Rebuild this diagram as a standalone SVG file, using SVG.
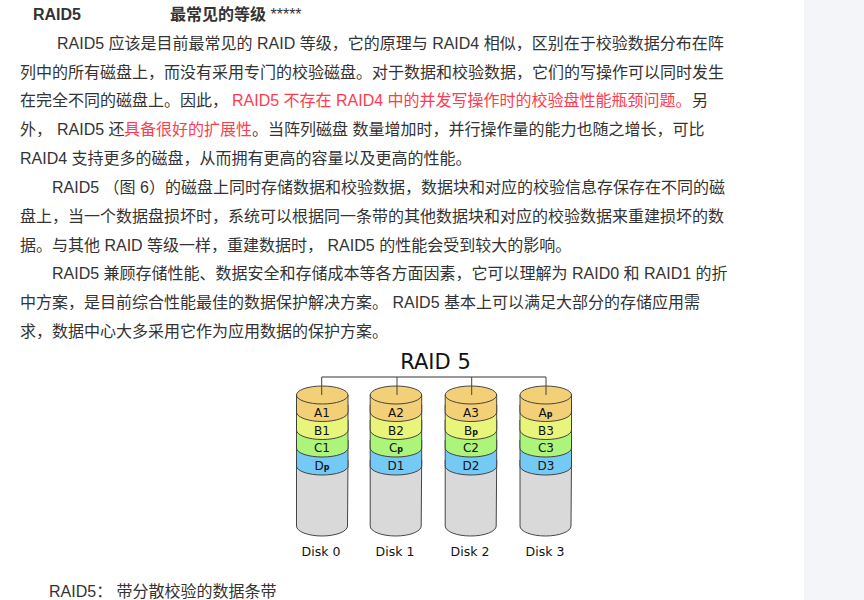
<svg xmlns="http://www.w3.org/2000/svg" width="864" height="600" viewBox="0 0 864 600">
<style>
.t{font-family:"Liberation Sans","Noto Sans CJK SC",sans-serif;font-size:16px;fill:#333}
.b{font-weight:bold}
.r{fill:#ff3b4e}
.d{font-family:"DejaVu Sans",sans-serif;fill:#111;text-anchor:middle;font-size:12.500px}
.lb{font-family:"DejaVu Sans",sans-serif;fill:#111;text-anchor:middle;font-size:12px}
.p{font-size:8px;font-weight:bold}
.o{stroke:#333;stroke-width:.9}
.c{fill:none;stroke:#777;stroke-width:1.300}
.k{fill:none;stroke:#444;stroke-width:1}
</style>
<rect width="864" height="600" fill="#fff"/>
<rect x="804" width="60" height="600" fill="#f4f5f9"/>
<g id="body">
<text class="t b" x="33" y="20">RAID5</text>
<text class="t b" x="170" y="20">最常见的等级 <tspan font-weight="normal">*****</tspan></text>
<text class="t" x="57" y="49">RAID5 应该是目前最常见的 RAID 等级，它的原理与 RAID4 相似，区别在于校验数据分布在阵</text>
<text class="t" x="20" y="78">列中的所有磁盘上，而没有采用专门的校验磁盘。对于数据和校验数据，它们的写操作可以同时发生</text>
<text class="t" x="20" y="106">在完全不同的磁盘上。因此， <tspan class="r" x="232">RAID5 不存在 RAID4 中的并发写操作时的校验盘性能瓶颈问题。</tspan><tspan x="692">另</tspan></text>
<text class="t" x="20" y="135">外， <tspan x="57">RAID5 还</tspan><tspan class="r" x="124">具备很好的扩展性</tspan>。当阵列磁盘 数量增加时，并行操作量的能力也随之增长，可比</text>
<text class="t" x="20" y="164">RAID4 支持更多的磁盘，从而拥有更高的容量以及更高的性能。</text>
<text class="t" x="52" y="193">RAID5 （图 6）的磁盘上同时存储数据和校验数据，数据块和对应的校验信息存保存在不同的磁</text>
<text class="t" x="20" y="222">盘上，当一个数据盘损坏时，系统可以根据同一条带的其他数据块和对应的校验数据来重建损坏的数</text>
<text class="t" x="20" y="251">据。与其他 RAID 等级一样，重建数据时， RAID5 的性能会受到较大的影响。</text>
<text class="t" x="52" y="279">RAID5 兼顾存储性能、数据安全和存储成本等各方面因素，它可以理解为 RAID0 和 RAID1 的折</text>
<text class="t" x="20" y="308">中方案，是目前综合性能最佳的数据保护解决方案。 RAID5 基本上可以满足大部分的存储应用需</text>
<text class="t" x="20" y="337">求，数据中心大多采用它作为应用数据的保护方案。</text>
<text class="t" x="49" y="597">RAID5： 带分散校验的数据条带</text>
</g>
<text class="d" x="435.500" y="369" style="font-size:21px">RAID 5</text>
<defs>
<g id="cyl">
<path class="o" d="M0 460V526A25.500 10 0 0 0 51 526L51.500 460Z" fill="#d9d9d9"/>
<path class="o" d="M0 440V466A25.750 9 0 0 0 51.500 466V440Z" fill="#74c9f5"/>
<path class="o" d="M0 420V448A25.750 9 0 0 0 51.500 448V420Z" fill="#adf57a"/>
<path class="o" d="M0 405V430A25.750 9.500 0 0 0 51.500 430V405Z" fill="#e9f57a"/>
<path class="o" d="M0 395V412A25.750 9.500 0 0 0 51.500 412V395Z" fill="#f3d078"/>
<ellipse class="o" cx="25.750" cy="395" rx="25.750" ry="9" fill="#f3d078"/>
</g>
</defs>
<g id="disk0"><use href="#cyl" x="296.500"/><text class="lb" x="322" y="417">A1</text><text class="lb" x="322" y="435">B1</text><text class="lb" x="322" y="452">C1</text><text class="lb" x="322" y="470">D<tspan class="p">p</tspan></text><text class="d" x="321" y="556">Disk 0</text></g>
<g id="disk1"><use href="#cyl" x="370.200"/><text class="lb" x="396" y="417">A2</text><text class="lb" x="396" y="435">B2</text><text class="lb" x="396" y="452">C<tspan class="p">p</tspan></text><text class="lb" x="396" y="470">D1</text><text class="d" x="395" y="556">Disk 1</text></g>
<g id="disk2"><use href="#cyl" x="445.200"/><text class="lb" x="471" y="417">A3</text><text class="lb" x="471" y="435">B<tspan class="p">p</tspan></text><text class="lb" x="471" y="452">C2</text><text class="lb" x="471" y="470">D2</text><text class="d" x="470" y="556">Disk 2</text></g>
<g id="disk3"><use href="#cyl" x="520"/><text class="lb" x="545.500" y="417">A<tspan class="p">p</tspan></text><text class="lb" x="546" y="435">B3</text><text class="lb" x="546" y="452">C3</text><text class="lb" x="546" y="470">D3</text><text class="d" x="545" y="556">Disk 3</text></g>
<g id="connectors"><path class="c" d="M321.700 377H546"/><path class="k" d="M321.700 377V395M397 377V395M471.700 377V395M546 377V395"/></g>
</svg>
